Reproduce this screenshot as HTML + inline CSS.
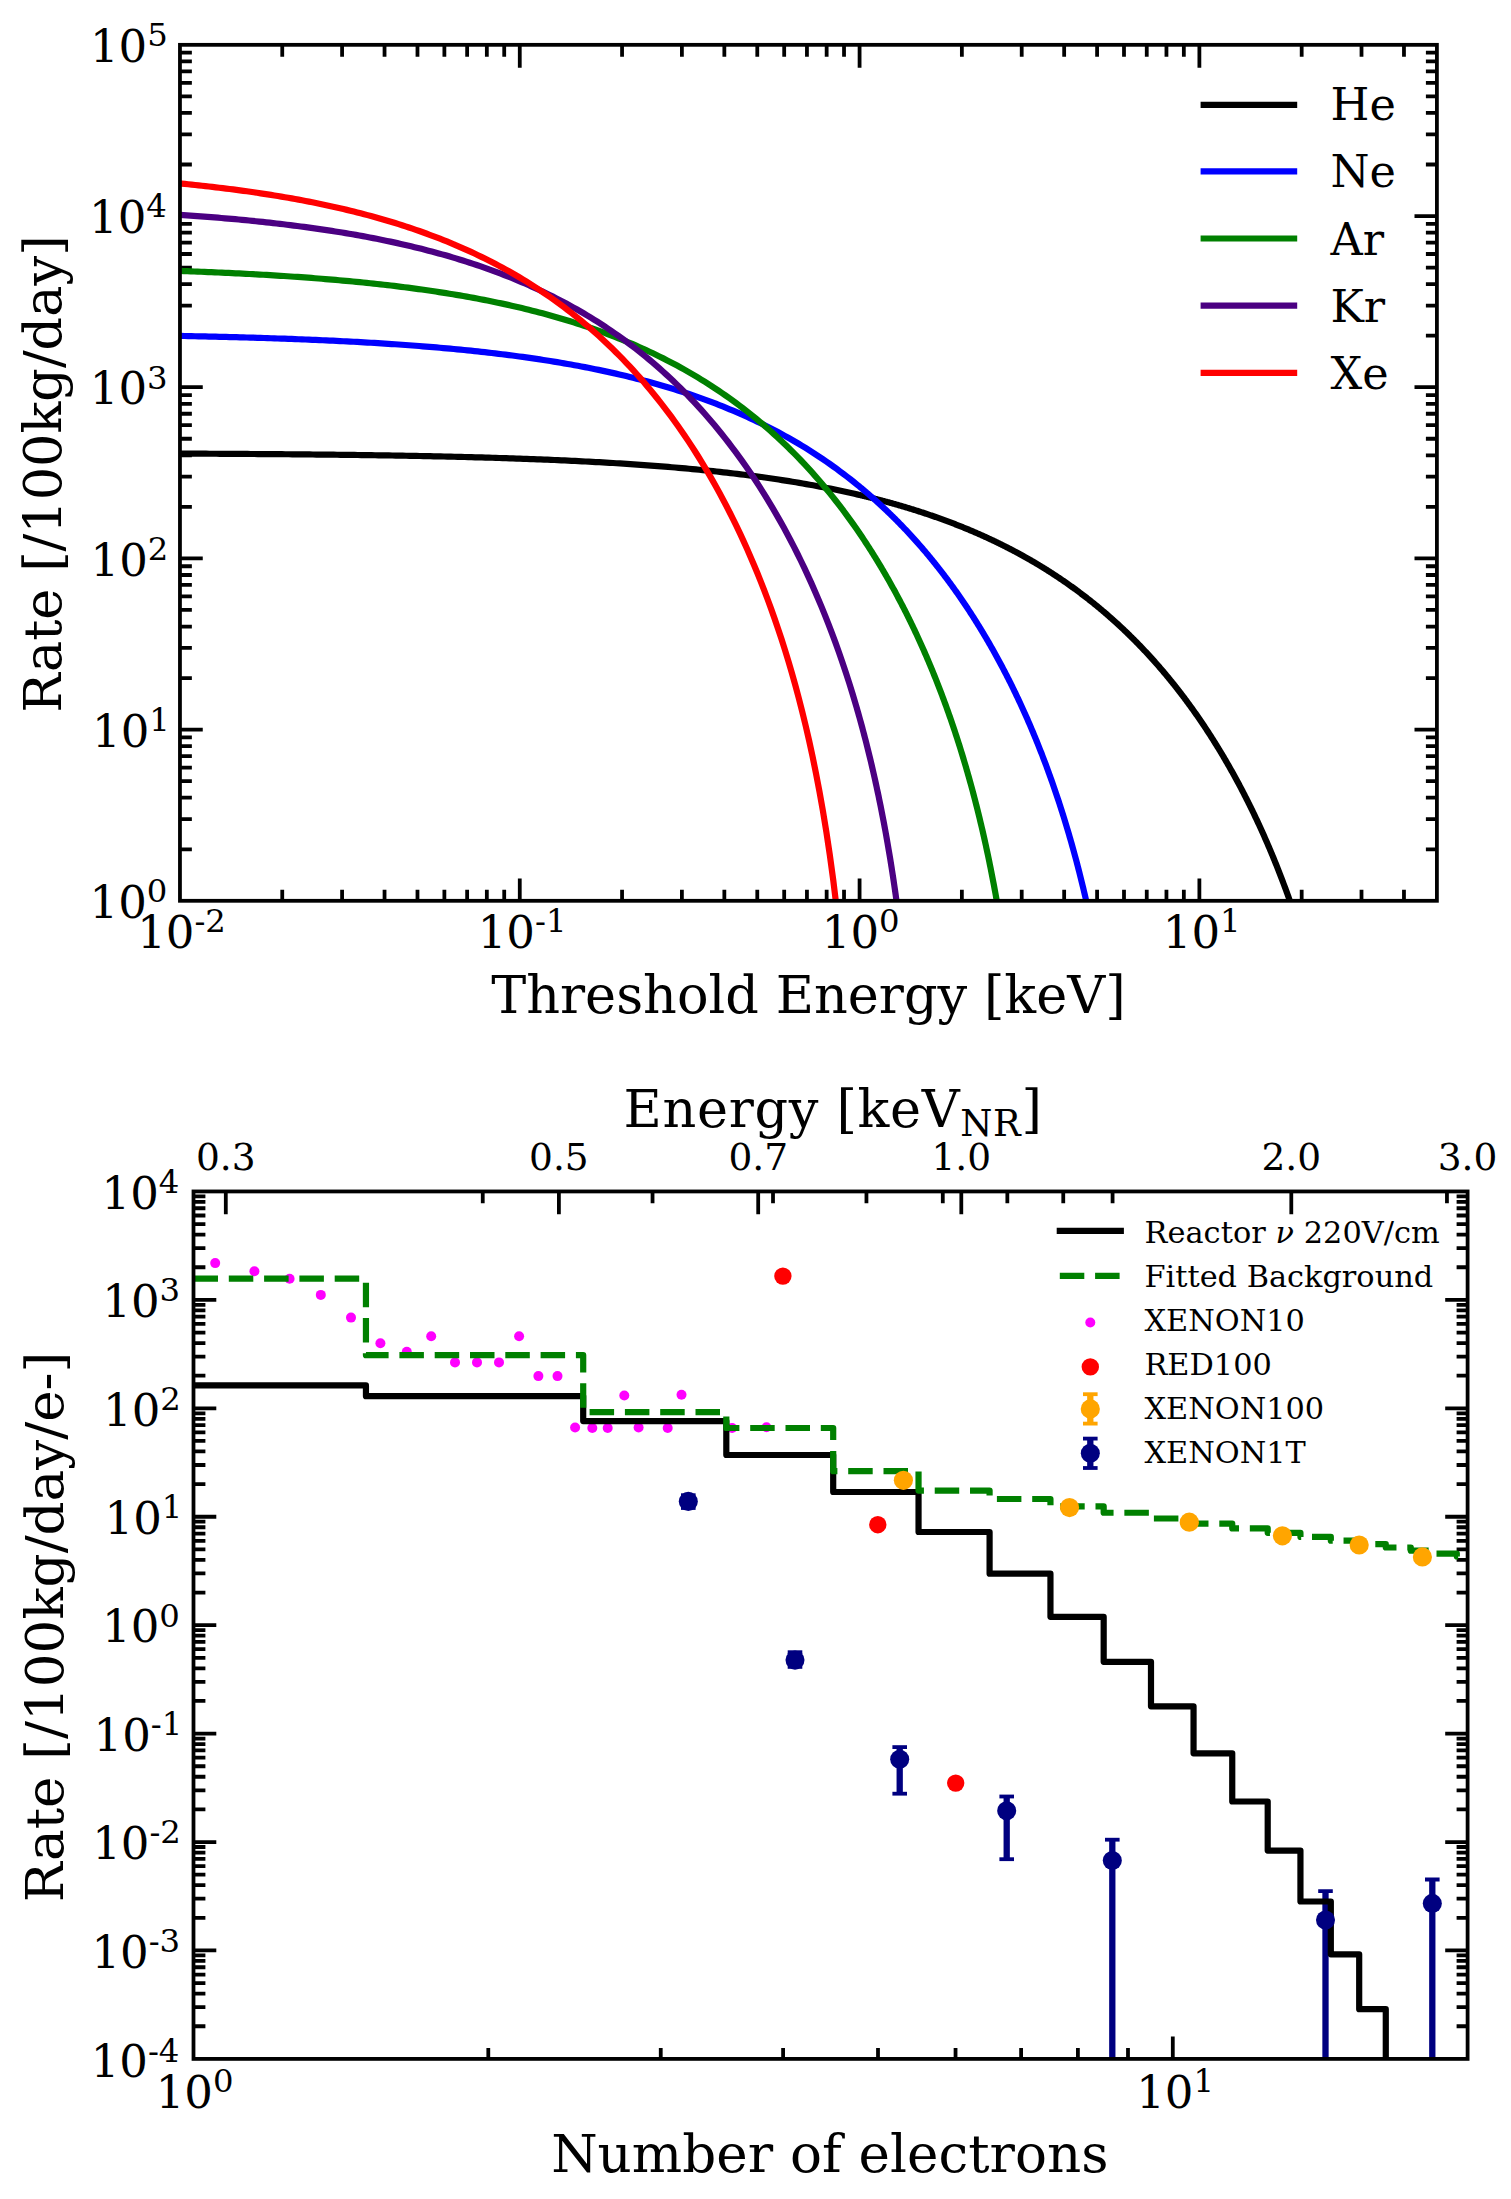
<!DOCTYPE html>
<html lang="en"><head><meta charset="utf-8"><title>Reactor neutrino CEvNS rates</title>
<style>html,body{margin:0;padding:0;background:#fff}svg{display:block}</style></head>
<body>
<svg width="1511" height="2199" viewBox="0 0 1511 2199" font-family="'DejaVu Serif','Liberation Serif',serif" fill="#000">
<rect width="1511" height="2199" fill="#fff"/>
<defs><clipPath id="c1"><rect x="179.96" y="44.83" width="1256.94" height="855.97"/></clipPath><clipPath id="c2"><rect x="193.5" y="1191.45" width="1274.1" height="867.45"/></clipPath></defs>
<path d="M282.25,900.8v-11M282.25,44.83v11.9M342.09,900.8v-11M342.09,44.83v11.9M384.54,900.8v-11M384.54,44.83v11.9M417.48,900.8v-11M417.48,44.83v11.9M444.38,900.8v-11M444.38,44.83v11.9M467.13,900.8v-11M467.13,44.83v11.9M486.84,900.8v-11M486.84,44.83v11.9M504.22,900.8v-11M504.22,44.83v11.9M519.77,900.8v-22.4M519.77,44.83v22.8M622.06,900.8v-11M622.06,44.83v11.9M681.9,900.8v-11M681.9,44.83v11.9M724.35,900.8v-11M724.35,44.83v11.9M757.28,900.8v-11M757.28,44.83v11.9M784.19,900.8v-11M784.19,44.83v11.9M806.94,900.8v-11M806.94,44.83v11.9M826.65,900.8v-11M826.65,44.83v11.9M844.03,900.8v-11M844.03,44.83v11.9M859.58,900.8v-22.4M859.58,44.83v22.8M961.87,900.8v-11M961.87,44.83v11.9M1021.71,900.8v-11M1021.71,44.83v11.9M1064.16,900.8v-11M1064.16,44.83v11.9M1097.09,900.8v-11M1097.09,44.83v11.9M1124,900.8v-11M1124,44.83v11.9M1146.75,900.8v-11M1146.75,44.83v11.9M1166.45,900.8v-11M1166.45,44.83v11.9M1183.84,900.8v-11M1183.84,44.83v11.9M1199.38,900.8v-22.4M1199.38,44.83v22.8M1301.68,900.8v-11M1301.68,44.83v11.9M1361.51,900.8v-11M1361.51,44.83v11.9M1403.97,900.8v-11M1403.97,44.83v11.9M179.96,849.27h11.9M1436.9,849.27h-11M179.96,819.12h11.9M1436.9,819.12h-11M179.96,797.73h11.9M1436.9,797.73h-11M179.96,781.14h11.9M1436.9,781.14h-11M179.96,767.59h11.9M1436.9,767.59h-11M179.96,756.12h11.9M1436.9,756.12h-11M179.96,746.2h11.9M1436.9,746.2h-11M179.96,737.44h11.9M1436.9,737.44h-11M179.96,729.61h22.8M1436.9,729.61h-22.4M179.96,678.07h11.9M1436.9,678.07h-11M179.96,647.93h11.9M1436.9,647.93h-11M179.96,626.54h11.9M1436.9,626.54h-11M179.96,609.95h11.9M1436.9,609.95h-11M179.96,596.39h11.9M1436.9,596.39h-11M179.96,584.93h11.9M1436.9,584.93h-11M179.96,575h11.9M1436.9,575h-11M179.96,566.25h11.9M1436.9,566.25h-11M179.96,558.41h22.8M1436.9,558.41h-22.4M179.96,506.88h11.9M1436.9,506.88h-11M179.96,476.73h11.9M1436.9,476.73h-11M179.96,455.34h11.9M1436.9,455.34h-11M179.96,438.75h11.9M1436.9,438.75h-11M179.96,425.2h11.9M1436.9,425.2h-11M179.96,413.74h11.9M1436.9,413.74h-11M179.96,403.81h11.9M1436.9,403.81h-11M179.96,395.05h11.9M1436.9,395.05h-11M179.96,387.22h22.8M1436.9,387.22h-22.4M179.96,335.68h11.9M1436.9,335.68h-11M179.96,305.54h11.9M1436.9,305.54h-11M179.96,284.15h11.9M1436.9,284.15h-11M179.96,267.56h11.9M1436.9,267.56h-11M179.96,254h11.9M1436.9,254h-11M179.96,242.54h11.9M1436.9,242.54h-11M179.96,232.61h11.9M1436.9,232.61h-11M179.96,223.86h11.9M1436.9,223.86h-11M179.96,216.02h22.8M1436.9,216.02h-22.4M179.96,164.49h11.9M1436.9,164.49h-11M179.96,134.34h11.9M1436.9,134.34h-11M179.96,112.95h11.9M1436.9,112.95h-11M179.96,96.36h11.9M1436.9,96.36h-11M179.96,82.81h11.9M1436.9,82.81h-11M179.96,71.35h11.9M1436.9,71.35h-11M179.96,61.42h11.9M1436.9,61.42h-11M179.96,52.66h11.9M1436.9,52.66h-11" stroke="#000" stroke-width="3.78" fill="none"/>
<g clip-path="url(#c1)" fill="none" stroke-width="6.2" stroke-linejoin="round" stroke-linecap="butt">
<path d="M171.54,453.56 L174.99,453.58 L178.44,453.59 L181.89,453.61 L185.34,453.62 L188.79,453.64 L192.24,453.65 L195.69,453.67 L199.14,453.68 L202.59,453.7 L206.04,453.72 L209.49,453.74 L212.94,453.75 L216.38,453.77 L219.83,453.79 L223.28,453.81 L226.73,453.83 L230.18,453.85 L233.63,453.87 L237.08,453.89 L240.53,453.92 L243.98,453.94 L247.43,453.96 L250.88,453.98 L254.33,454.01 L257.78,454.03 L261.23,454.06 L264.68,454.08 L268.12,454.11 L271.57,454.13 L275.02,454.16 L278.47,454.19 L281.92,454.21 L285.37,454.24 L288.82,454.27 L292.27,454.3 L295.72,454.33 L299.17,454.36 L302.62,454.4 L306.07,454.43 L309.52,454.46 L312.97,454.5 L316.41,454.53 L319.86,454.57 L323.31,454.6 L326.76,454.64 L330.21,454.68 L333.66,454.72 L337.11,454.76 L340.56,454.8 L344.01,454.84 L347.46,454.88 L350.91,454.92 L354.36,454.97 L357.81,455.01 L361.26,455.06 L364.71,455.11 L368.15,455.15 L371.6,455.2 L375.05,455.25 L378.5,455.31 L381.95,455.36 L385.4,455.41 L388.85,455.47 L392.3,455.52 L395.75,455.58 L399.2,455.64 L402.65,455.7 L406.1,455.76 L409.55,455.82 L413,455.88 L416.44,455.95 L419.89,456.01 L423.34,456.08 L426.79,456.15 L430.24,456.22 L433.69,456.29 L437.14,456.36 L440.59,456.44 L444.04,456.51 L447.49,456.59 L450.94,456.67 L454.39,456.75 L457.84,456.84 L461.29,456.92 L464.74,457.01 L468.18,457.1 L471.63,457.19 L475.08,457.28 L478.53,457.37 L481.98,457.47 L485.43,457.57 L488.88,457.67 L492.33,457.77 L495.78,457.87 L499.23,457.98 L502.68,458.09 L506.13,458.2 L509.58,458.31 L513.03,458.43 L516.47,458.54 L519.92,458.66 L523.37,458.79 L526.82,458.91 L530.27,459.04 L533.72,459.17 L537.17,459.3 L540.62,459.44 L544.07,459.58 L547.52,459.72 L550.97,459.86 L554.42,460.01 L557.87,460.16 L561.32,460.31 L564.76,460.47 L568.21,460.63 L571.66,460.79 L575.11,460.96 L578.56,461.13 L582.01,461.3 L585.46,461.48 L588.91,461.66 L592.36,461.84 L595.81,462.03 L599.26,462.22 L602.71,462.41 L606.16,462.61 L609.61,462.82 L613.06,463.02 L616.5,463.23 L619.95,463.45 L623.4,463.67 L626.85,463.89 L630.3,464.12 L633.75,464.35 L637.2,464.59 L640.65,464.83 L644.1,465.08 L647.55,465.33 L651,465.59 L654.45,465.85 L657.9,466.11 L661.35,466.39 L664.79,466.66 L668.24,466.95 L671.69,467.23 L675.14,467.53 L678.59,467.83 L682.04,468.13 L685.49,468.44 L688.94,468.76 L692.39,469.09 L695.84,469.42 L699.29,469.75 L702.74,470.09 L706.19,470.44 L709.64,470.8 L713.09,471.16 L716.53,471.53 L719.98,471.91 L723.43,472.3 L726.88,472.69 L730.33,473.09 L733.78,473.49 L737.23,473.91 L740.68,474.33 L744.13,474.76 L747.58,475.2 L751.03,475.65 L754.48,476.1 L757.93,476.57 L761.38,477.04 L764.82,477.53 L768.27,478.02 L771.72,478.52 L775.17,479.03 L778.62,479.55 L782.07,480.08 L785.52,480.62 L788.97,481.17 L792.42,481.73 L795.87,482.3 L799.32,482.88 L802.77,483.47 L806.22,484.08 L809.67,484.69 L813.12,485.32 L816.56,485.96 L820.01,486.61 L823.46,487.27 L826.91,487.95 L830.36,488.63 L833.81,489.33 L837.26,490.05 L840.71,490.77 L844.16,491.51 L847.61,492.27 L851.06,493.03 L854.51,493.82 L857.96,494.61 L858.64,494.77 L859.32,494.93 L860,495.09 L860.68,495.25 L861.36,495.41 L862.04,495.57 L862.72,495.74 L863.4,495.9 L864.08,496.06 L864.76,496.23 L865.44,496.39 L866.12,496.56 L866.8,496.72 L867.48,496.89 L868.17,497.06 L868.85,497.22 L869.53,497.39 L870.21,497.56 L870.89,497.73 L871.57,497.9 L872.25,498.07 L872.93,498.24 L873.61,498.41 L874.29,498.59 L874.97,498.76 L875.65,498.93 L876.33,499.11 L877.01,499.28 L877.69,499.46 L878.37,499.64 L879.05,499.81 L879.74,499.99 L880.42,500.17 L881.1,500.35 L881.78,500.53 L882.46,500.71 L883.14,500.89 L883.82,501.07 L884.5,501.25 L885.18,501.43 L885.86,501.62 L886.54,501.8 L887.22,501.99 L887.9,502.17 L888.58,502.36 L889.26,502.55 L889.94,502.73 L890.62,502.92 L891.31,503.11 L891.99,503.3 L892.67,503.49 L893.35,503.68 L894.03,503.87 L894.71,504.06 L895.39,504.26 L896.07,504.45 L896.75,504.65 L897.43,504.84 L898.11,505.04 L898.79,505.23 L899.47,505.43 L900.15,505.63 L900.83,505.83 L901.51,506.03 L902.19,506.23 L902.88,506.43 L903.56,506.63 L904.24,506.83 L904.92,507.03 L905.6,507.24 L906.28,507.44 L906.96,507.65 L907.64,507.85 L908.32,508.06 L909,508.27 L909.68,508.47 L910.36,508.68 L911.04,508.89 L911.72,509.1 L912.4,509.31 L913.08,509.53 L913.76,509.74 L914.45,509.95 L915.13,510.17 L915.81,510.38 L916.49,510.6 L917.17,510.81 L917.85,511.03 L918.53,511.25 L919.21,511.47 L919.89,511.69 L920.57,511.91 L921.25,512.13 L921.93,512.35 L922.61,512.57 L923.29,512.79 L923.97,513.02 L924.65,513.24 L925.33,513.47 L926.02,513.7 L926.7,513.92 L927.38,514.15 L928.06,514.38 L928.74,514.61 L929.42,514.84 L930.1,515.07 L930.78,515.31 L931.46,515.54 L932.14,515.77 L932.82,516.01 L933.5,516.24 L934.18,516.48 L934.86,516.72 L935.54,516.96 L936.22,517.2 L936.9,517.44 L937.59,517.68 L938.27,517.92 L938.95,518.16 L939.63,518.41 L940.31,518.65 L940.99,518.9 L941.67,519.14 L942.35,519.39 L943.03,519.64 L943.71,519.88 L944.39,520.13 L945.07,520.39 L945.75,520.64 L946.43,520.89 L947.11,521.14 L947.79,521.4 L948.47,521.65 L949.16,521.91 L949.84,522.16 L950.52,522.42 L951.2,522.68 L951.88,522.94 L952.56,523.2 L953.24,523.46 L953.92,523.72 L954.6,523.99 L955.28,524.25 L955.96,524.52 L956.64,524.78 L957.32,525.05 L958,525.32 L958.68,525.59 L959.36,525.86 L960.04,526.13 L960.73,526.4 L961.41,526.67 L962.09,526.95 L962.77,527.22 L963.45,527.5 L964.13,527.78 L964.81,528.05 L965.49,528.33 L966.17,528.61 L966.85,528.89 L967.53,529.18 L968.21,529.46 L968.89,529.74 L969.57,530.03 L970.25,530.31 L970.93,530.6 L971.61,530.89 L972.3,531.18 L972.98,531.47 L973.66,531.76 L974.34,532.05 L975.02,532.34 L975.7,532.64 L976.38,532.93 L977.06,533.23 L977.74,533.53 L978.42,533.82 L979.1,534.12 L979.78,534.42 L980.46,534.73 L981.14,535.03 L981.82,535.33 L982.5,535.64 L983.18,535.94 L983.87,536.25 L984.55,536.56 L985.23,536.87 L985.91,537.18 L986.59,537.49 L987.27,537.8 L987.95,538.11 L988.63,538.43 L989.31,538.75 L989.99,539.06 L990.67,539.38 L991.35,539.7 L992.03,540.02 L992.71,540.34 L993.39,540.66 L994.07,540.99 L994.75,541.31 L995.44,541.64 L996.12,541.97 L996.8,542.3 L997.48,542.63 L998.16,542.96 L998.84,543.29 L999.52,543.62 L1000.2,543.96 L1000.88,544.29 L1001.56,544.63 L1002.24,544.97 L1002.92,545.31 L1003.6,545.65 L1004.28,545.99 L1004.96,546.33 L1005.64,546.67 L1006.32,547.02 L1007.01,547.37 L1007.69,547.71 L1008.37,548.06 L1009.05,548.41 L1009.73,548.77 L1010.41,549.12 L1011.09,549.47 L1011.77,549.83 L1012.45,550.18 L1013.13,550.54 L1013.81,550.9 L1014.49,551.26 L1015.17,551.62 L1015.85,551.99 L1016.53,552.35 L1017.21,552.72 L1017.89,553.08 L1018.58,553.45 L1019.26,553.82 L1019.94,554.19 L1020.62,554.56 L1021.3,554.94 L1021.98,555.31 L1022.66,555.69 L1023.34,556.07 L1024.02,556.44 L1024.7,556.83 L1025.38,557.21 L1026.06,557.59 L1026.74,557.97 L1027.42,558.36 L1028.1,558.75 L1028.78,559.14 L1029.46,559.53 L1030.15,559.92 L1030.83,560.31 L1031.51,560.7 L1032.19,561.1 L1032.87,561.5 L1033.55,561.89 L1034.23,562.29 L1034.91,562.7 L1035.59,563.1 L1036.27,563.5 L1036.95,563.91 L1037.63,564.31 L1038.31,564.72 L1038.99,565.13 L1039.67,565.54 L1040.35,565.96 L1041.03,566.37 L1041.72,566.79 L1042.4,567.2 L1043.08,567.62 L1043.76,568.04 L1044.44,568.47 L1045.12,568.89 L1045.8,569.31 L1046.48,569.74 L1047.16,570.17 L1047.84,570.6 L1048.52,571.03 L1049.2,571.46 L1049.88,571.9 L1050.56,572.33 L1051.24,572.77 L1051.92,573.21 L1052.6,573.65 L1053.29,574.09 L1053.97,574.53 L1054.65,574.98 L1055.33,575.43 L1056.01,575.87 L1056.69,576.32 L1057.37,576.78 L1058.05,577.23 L1058.73,577.68 L1059.41,578.14 L1060.09,578.6 L1060.77,579.06 L1061.45,579.52 L1062.13,579.98 L1062.81,580.45 L1063.49,580.91 L1064.17,581.38 L1064.86,581.85 L1065.54,582.32 L1066.22,582.8 L1066.9,583.27 L1067.58,583.75 L1068.26,584.23 L1068.94,584.71 L1069.62,585.19 L1070.3,585.67 L1070.98,586.16 L1071.66,586.64 L1072.34,587.13 L1073.02,587.62 L1073.7,588.12 L1074.38,588.61 L1075.06,589.11 L1075.74,589.6 L1076.43,590.1 L1077.11,590.61 L1077.79,591.11 L1078.47,591.61 L1079.15,592.12 L1079.83,592.63 L1080.51,593.14 L1081.19,593.65 L1081.87,594.17 L1082.55,594.68 L1083.23,595.2 L1083.91,595.72 L1084.59,596.24 L1085.27,596.77 L1085.95,597.29 L1086.63,597.82 L1087.31,598.35 L1088,598.88 L1088.68,599.41 L1089.36,599.95 L1090.04,600.49 L1090.72,601.02 L1091.4,601.57 L1092.08,602.11 L1092.76,602.65 L1093.44,603.2 L1094.12,603.75 L1094.8,604.3 L1095.48,604.85 L1096.16,605.41 L1096.84,605.97 L1097.52,606.52 L1098.2,607.09 L1098.88,607.65 L1099.57,608.21 L1100.25,608.78 L1100.93,609.35 L1101.61,609.92 L1102.29,610.5 L1102.97,611.07 L1103.65,611.65 L1104.33,612.23 L1105.01,612.81 L1105.69,613.4 L1106.37,613.98 L1107.05,614.57 L1107.73,615.16 L1108.41,615.75 L1109.09,616.35 L1109.77,616.95 L1110.45,617.54 L1111.14,618.15 L1111.82,618.75 L1112.5,619.36 L1113.18,619.96 L1113.86,620.57 L1114.54,621.19 L1115.22,621.8 L1115.9,622.42 L1116.58,623.04 L1117.26,623.66 L1117.94,624.29 L1118.62,624.91 L1119.3,625.54 L1119.98,626.17 L1120.66,626.8 L1121.34,627.44 L1122.02,628.08 L1122.71,628.72 L1123.39,629.36 L1124.07,630.01 L1124.75,630.65 L1125.43,631.3 L1126.11,631.96 L1126.79,632.61 L1127.47,633.27 L1128.15,633.93 L1128.83,634.59 L1129.51,635.26 L1130.19,635.92 L1130.87,636.59 L1131.55,637.26 L1132.23,637.94 L1132.91,638.62 L1133.59,639.3 L1134.28,639.98 L1134.96,640.66 L1135.64,641.35 L1136.32,642.04 L1137,642.73 L1137.68,643.43 L1138.36,644.13 L1139.04,644.83 L1139.72,645.53 L1140.4,646.23 L1141.08,646.94 L1141.76,647.65 L1142.44,648.37 L1143.12,649.08 L1143.8,649.8 L1144.48,650.52 L1145.16,651.25 L1145.85,651.98 L1146.53,652.71 L1147.21,653.44 L1147.89,654.17 L1148.57,654.91 L1149.25,655.65 L1149.93,656.4 L1150.61,657.14 L1151.29,657.89 L1151.97,658.65 L1152.65,659.4 L1153.33,660.16 L1154.01,660.92 L1154.69,661.68 L1155.37,662.45 L1156.05,663.22 L1156.73,663.99 L1157.42,664.77 L1158.1,665.55 L1158.78,666.33 L1159.46,667.11 L1160.14,667.9 L1160.82,668.69 L1161.5,669.49 L1162.18,670.28 L1162.86,671.08 L1163.54,671.88 L1164.22,672.69 L1164.9,673.5 L1165.58,674.31 L1166.26,675.13 L1166.94,675.95 L1167.62,676.77 L1168.3,677.59 L1168.99,678.42 L1169.67,679.25 L1170.35,680.09 L1171.03,680.92 L1171.71,681.77 L1172.39,682.61 L1173.07,683.46 L1173.75,684.31 L1174.43,685.16 L1175.11,686.02 L1175.79,686.88 L1176.47,687.75 L1177.15,688.61 L1177.83,689.48 L1178.51,690.36 L1179.19,691.24 L1179.87,692.12 L1180.56,693 L1181.24,693.89 L1181.92,694.78 L1182.6,695.68 L1183.28,696.58 L1183.96,697.48 L1184.64,698.39 L1185.32,699.3 L1186,700.21 L1186.68,701.13 L1187.36,702.05 L1188.04,702.97 L1188.72,703.9 L1189.4,704.83 L1190.08,705.77 L1190.76,706.71 L1191.44,707.65 L1192.13,708.6 L1192.81,709.55 L1193.49,710.5 L1194.17,711.46 L1194.85,712.43 L1195.53,713.39 L1196.21,714.36 L1196.89,715.34 L1197.57,716.32 L1198.25,717.3 L1198.93,718.28 L1199.61,719.27 L1200.29,720.27 L1200.97,721.27 L1201.65,722.27 L1202.33,723.28 L1203.01,724.29 L1203.7,725.3 L1204.38,726.32 L1205.06,727.35 L1205.74,728.37 L1206.42,729.41 L1207.1,730.44 L1207.78,731.48 L1208.46,732.53 L1209.14,733.58 L1209.82,734.63 L1210.5,735.69 L1211.18,736.75 L1211.86,737.82 L1212.54,738.89 L1213.22,739.97 L1213.9,741.05 L1214.58,742.14 L1215.27,743.23 L1215.95,744.32 L1216.63,745.42 L1217.31,746.52 L1217.99,747.63 L1218.67,748.75 L1219.35,749.87 L1220.03,750.99 L1220.71,752.12 L1221.39,753.25 L1222.07,754.39 L1222.75,755.53 L1223.43,756.68 L1224.11,757.84 L1224.79,758.99 L1225.47,760.16 L1226.15,761.33 L1226.84,762.5 L1227.52,763.68 L1228.2,764.86 L1228.88,766.05 L1229.56,767.25 L1230.24,768.45 L1230.92,769.66 L1231.6,770.87 L1232.28,772.08 L1232.96,773.31 L1233.64,774.53 L1234.32,775.77 L1235,777.01 L1235.68,778.25 L1236.36,779.5 L1237.04,780.76 L1237.72,782.02 L1238.41,783.29 L1239.09,784.56 L1239.77,785.84 L1240.45,787.13 L1241.13,788.42 L1241.81,789.72 L1242.49,791.02 L1243.17,792.34 L1243.85,793.65 L1244.53,794.98 L1245.21,796.3 L1245.89,797.64 L1246.57,798.98 L1247.25,800.33 L1247.93,801.69 L1248.61,803.05 L1249.29,804.42 L1249.98,805.79 L1250.66,807.18 L1251.34,808.57 L1252.02,809.96 L1252.7,811.36 L1253.38,812.77 L1254.06,814.19 L1254.74,815.62 L1255.42,817.05 L1256.1,818.49 L1256.78,819.93 L1257.46,821.39 L1258.14,822.85 L1258.82,824.32 L1259.5,825.79 L1260.18,827.28 L1260.86,828.77 L1261.55,830.27 L1262.23,831.78 L1262.91,833.29 L1263.59,834.82 L1264.27,836.35 L1264.95,837.89 L1265.63,839.44 L1266.31,841 L1266.99,842.56 L1267.67,844.14 L1268.35,845.72 L1269.03,847.31 L1269.71,848.91 L1270.39,850.52 L1271.07,852.14 L1271.75,853.77 L1272.43,855.41 L1273.12,857.05 L1273.8,858.71 L1274.48,860.38 L1275.16,862.05 L1275.84,863.74 L1276.52,865.43 L1277.2,867.14 L1277.88,868.86 L1278.56,870.58 L1279.24,872.32 L1279.92,874.07 L1280.6,875.82 L1281.28,877.59 L1281.96,879.37 L1282.64,881.16 L1283.32,882.97 L1284,884.78 L1284.69,886.6 L1285.37,888.44 L1286.05,890.29 L1286.73,892.15 L1287.41,894.02 L1288.09,895.91 L1288.77,897.81 L1289.45,899.72 L1290.13,901.64 L1290.81,903.58 L1291.49,905.53 L1292.17,907.49 L1292.85,909.47 L1293.53,911.46 L1294.21,913.46 L1294.89,915.48 L1295.57,917.51 L1296.26,919.56 L1296.94,921.63 L1297.62,923.7 L1298.3,925.8 L1298.98,927.91 L1299.66,930.03 L1300.34,932.17 L1301.02,934.33 L1301.7,936.5 L1302.38,938.7 L1303.06,940.9 L1303.74,943.13 L1304.42,945.37 L1305.1,947.63 L1305.78,949.92 L1306.46,952.21 L1307.14,954.53 L1307.83,956.87 L1308.51,959.23" stroke="#000000"/>
<path d="M170.9,335.76 L174.35,335.82 L177.8,335.89 L181.25,335.95 L184.7,336.02 L188.15,336.09 L191.6,336.16 L195.05,336.23 L198.5,336.3 L201.95,336.38 L205.4,336.45 L208.85,336.53 L212.3,336.61 L215.74,336.69 L219.19,336.78 L222.64,336.86 L226.09,336.95 L229.54,337.03 L232.99,337.12 L236.44,337.22 L239.89,337.31 L243.34,337.41 L246.79,337.5 L250.24,337.6 L253.69,337.7 L257.14,337.81 L260.59,337.91 L264.04,338.02 L267.48,338.13 L270.93,338.25 L274.38,338.36 L277.83,338.48 L281.28,338.6 L284.73,338.72 L288.18,338.84 L291.63,338.97 L295.08,339.1 L298.53,339.24 L301.98,339.37 L305.43,339.51 L308.88,339.65 L312.33,339.79 L315.77,339.94 L319.22,340.09 L322.67,340.24 L326.12,340.4 L329.57,340.56 L333.02,340.72 L336.47,340.89 L339.92,341.05 L343.37,341.23 L346.82,341.4 L350.27,341.58 L353.72,341.77 L357.17,341.95 L360.62,342.14 L364.07,342.34 L367.51,342.53 L370.96,342.74 L374.41,342.94 L377.86,343.15 L381.31,343.37 L384.76,343.59 L388.21,343.81 L391.66,344.04 L395.11,344.27 L398.56,344.51 L402.01,344.75 L405.46,344.99 L408.91,345.24 L412.36,345.5 L415.8,345.76 L419.25,346.03 L422.7,346.3 L426.15,346.57 L429.6,346.86 L433.05,347.14 L436.5,347.44 L439.95,347.74 L443.4,348.04 L446.85,348.35 L450.3,348.67 L453.75,348.99 L457.2,349.32 L460.65,349.65 L464.1,350 L467.54,350.34 L470.99,350.7 L474.44,351.06 L477.89,351.43 L481.34,351.81 L484.79,352.19 L488.24,352.58 L491.69,352.98 L495.14,353.39 L498.59,353.8 L502.04,354.22 L505.49,354.65 L508.94,355.09 L512.39,355.54 L515.83,355.99 L519.28,356.45 L522.73,356.93 L526.18,357.41 L529.63,357.9 L533.08,358.4 L536.53,358.91 L539.98,359.43 L543.43,359.95 L546.88,360.49 L550.33,361.04 L553.78,361.6 L557.23,362.17 L560.68,362.75 L564.12,363.34 L567.57,363.94 L571.02,364.56 L574.47,365.18 L577.92,365.82 L581.37,366.47 L584.82,367.13 L588.27,367.8 L591.72,368.49 L595.17,369.18 L598.62,369.9 L602.07,370.62 L605.52,371.36 L608.97,372.11 L612.42,372.88 L615.86,373.65 L619.31,374.45 L622.76,375.26 L626.21,376.08 L629.66,376.92 L633.11,377.78 L636.56,378.65 L640.01,379.53 L643.46,380.43 L646.91,381.35 L650.36,382.29 L653.81,383.24 L657.26,384.21 L660.71,385.2 L664.15,386.21 L667.6,387.24 L671.05,388.28 L674.5,389.34 L677.95,390.43 L681.4,391.53 L684.85,392.65 L688.3,393.79 L691.75,394.96 L695.2,396.14 L698.65,397.35 L702.1,398.58 L705.55,399.83 L709,401.11 L712.45,402.4 L715.89,403.73 L719.34,405.07 L722.79,406.44 L726.24,407.84 L729.69,409.26 L733.14,410.7 L736.59,412.18 L740.04,413.68 L743.49,415.2 L746.94,416.76 L750.39,418.34 L753.84,419.95 L757.29,421.59 L760.74,423.26 L764.18,424.97 L767.63,426.7 L771.08,428.46 L774.53,430.26 L777.98,432.09 L781.43,433.95 L784.88,435.85 L788.33,437.78 L791.78,439.75 L795.23,441.75 L798.68,443.79 L802.13,445.86 L805.58,447.98 L809.03,450.13 L812.48,452.33 L815.92,454.56 L819.37,456.83 L822.82,459.15 L826.27,461.51 L829.72,463.91 L833.17,466.36 L836.62,468.85 L840.07,471.38 L843.52,473.97 L846.97,476.6 L850.42,479.28 L853.87,482.01 L857.32,484.8 L858,485.35 L858.68,485.91 L859.36,486.47 L860.04,487.03 L860.72,487.59 L861.4,488.16 L862.08,488.72 L862.76,489.29 L863.44,489.86 L864.12,490.44 L864.8,491.01 L865.48,491.59 L866.16,492.17 L866.84,492.75 L867.53,493.34 L868.21,493.92 L868.89,494.51 L869.57,495.1 L870.25,495.7 L870.93,496.29 L871.61,496.89 L872.29,497.49 L872.97,498.09 L873.65,498.69 L874.33,499.3 L875.01,499.91 L875.69,500.52 L876.37,501.13 L877.05,501.74 L877.73,502.36 L878.41,502.98 L879.1,503.6 L879.78,504.23 L880.46,504.85 L881.14,505.48 L881.82,506.11 L882.5,506.75 L883.18,507.38 L883.86,508.02 L884.54,508.66 L885.22,509.3 L885.9,509.95 L886.58,510.6 L887.26,511.25 L887.94,511.9 L888.62,512.55 L889.3,513.21 L889.98,513.87 L890.67,514.53 L891.35,515.2 L892.03,515.86 L892.71,516.53 L893.39,517.21 L894.07,517.88 L894.75,518.56 L895.43,519.24 L896.11,519.92 L896.79,520.6 L897.47,521.29 L898.15,521.98 L898.83,522.67 L899.51,523.37 L900.19,524.07 L900.87,524.77 L901.55,525.47 L902.24,526.18 L902.92,526.88 L903.6,527.59 L904.28,528.31 L904.96,529.02 L905.64,529.74 L906.32,530.46 L907,531.19 L907.68,531.92 L908.36,532.65 L909.04,533.38 L909.72,534.11 L910.4,534.85 L911.08,535.59 L911.76,536.34 L912.44,537.08 L913.12,537.83 L913.81,538.59 L914.49,539.34 L915.17,540.1 L915.85,540.86 L916.53,541.62 L917.21,542.39 L917.89,543.16 L918.57,543.93 L919.25,544.71 L919.93,545.49 L920.61,546.27 L921.29,547.05 L921.97,547.84 L922.65,548.63 L923.33,549.42 L924.01,550.22 L924.69,551.02 L925.38,551.82 L926.06,552.63 L926.74,553.44 L927.42,554.25 L928.1,555.07 L928.78,555.88 L929.46,556.71 L930.14,557.53 L930.82,558.36 L931.5,559.19 L932.18,560.02 L932.86,560.86 L933.54,561.7 L934.22,562.55 L934.9,563.4 L935.58,564.25 L936.26,565.1 L936.95,565.96 L937.63,566.82 L938.31,567.68 L938.99,568.55 L939.67,569.42 L940.35,570.3 L941.03,571.17 L941.71,572.06 L942.39,572.94 L943.07,573.83 L943.75,574.72 L944.43,575.62 L945.11,576.52 L945.79,577.42 L946.47,578.32 L947.15,579.23 L947.83,580.15 L948.52,581.07 L949.2,581.99 L949.88,582.91 L950.56,583.84 L951.24,584.77 L951.92,585.71 L952.6,586.65 L953.28,587.59 L953.96,588.54 L954.64,589.49 L955.32,590.44 L956,591.4 L956.68,592.36 L957.36,593.33 L958.04,594.3 L958.72,595.27 L959.4,596.25 L960.09,597.23 L960.77,598.22 L961.45,599.21 L962.13,600.2 L962.81,601.2 L963.49,602.21 L964.17,603.21 L964.85,604.22 L965.53,605.24 L966.21,606.26 L966.89,607.28 L967.57,608.31 L968.25,609.34 L968.93,610.38 L969.61,611.42 L970.29,612.46 L970.97,613.51 L971.66,614.57 L972.34,615.63 L973.02,616.69 L973.7,617.76 L974.38,618.83 L975.06,619.9 L975.74,620.98 L976.42,622.07 L977.1,623.16 L977.78,624.26 L978.46,625.36 L979.14,626.46 L979.82,627.57 L980.5,628.68 L981.18,629.8 L981.86,630.92 L982.54,632.05 L983.23,633.19 L983.91,634.32 L984.59,635.47 L985.27,636.62 L985.95,637.77 L986.63,638.93 L987.31,640.09 L987.99,641.26 L988.67,642.43 L989.35,643.61 L990.03,644.8 L990.71,645.99 L991.39,647.18 L992.07,648.38 L992.75,649.59 L993.43,650.8 L994.11,652.02 L994.8,653.24 L995.48,654.47 L996.16,655.7 L996.84,656.94 L997.52,658.18 L998.2,659.44 L998.88,660.69 L999.56,661.95 L1000.24,663.22 L1000.92,664.5 L1001.6,665.78 L1002.28,667.06 L1002.96,668.35 L1003.64,669.65 L1004.32,670.96 L1005,672.27 L1005.68,673.58 L1006.37,674.91 L1007.05,676.24 L1007.73,677.57 L1008.41,678.91 L1009.09,680.26 L1009.77,681.62 L1010.45,682.98 L1011.13,684.35 L1011.81,685.72 L1012.49,687.11 L1013.17,688.5 L1013.85,689.89 L1014.53,691.29 L1015.21,692.7 L1015.89,694.12 L1016.57,695.55 L1017.25,696.98 L1017.94,698.42 L1018.62,699.86 L1019.3,701.32 L1019.98,702.78 L1020.66,704.25 L1021.34,705.72 L1022.02,707.21 L1022.7,708.7 L1023.38,710.2 L1024.06,711.71 L1024.74,713.22 L1025.42,714.75 L1026.1,716.28 L1026.78,717.82 L1027.46,719.37 L1028.14,720.92 L1028.82,722.49 L1029.51,724.06 L1030.19,725.65 L1030.87,727.24 L1031.55,728.84 L1032.23,730.45 L1032.91,732.07 L1033.59,733.7 L1034.27,735.33 L1034.95,736.98 L1035.63,738.64 L1036.31,740.3 L1036.99,741.98 L1037.67,743.66 L1038.35,745.36 L1039.03,747.07 L1039.71,748.78 L1040.39,750.51 L1041.08,752.24 L1041.76,753.99 L1042.44,755.75 L1043.12,757.52 L1043.8,759.3 L1044.48,761.09 L1045.16,762.89 L1045.84,764.7 L1046.52,766.53 L1047.2,768.37 L1047.88,770.21 L1048.56,772.08 L1049.24,773.95 L1049.92,775.83 L1050.6,777.73 L1051.28,779.64 L1051.96,781.56 L1052.65,783.5 L1053.33,785.45 L1054.01,787.41 L1054.69,789.39 L1055.37,791.38 L1056.05,793.38 L1056.73,795.4 L1057.41,797.44 L1058.09,799.48 L1058.77,801.55 L1059.45,803.62 L1060.13,805.72 L1060.81,807.83 L1061.49,809.95 L1062.17,812.09 L1062.85,814.25 L1063.53,816.42 L1064.22,818.61 L1064.9,820.82 L1065.58,823.05 L1066.26,825.29 L1066.94,827.55 L1067.62,829.83 L1068.3,832.13 L1068.98,834.45 L1069.66,836.79 L1070.34,839.14 L1071.02,841.52 L1071.7,843.92 L1072.38,846.34 L1073.06,848.78 L1073.74,851.24 L1074.42,853.73 L1075.1,856.23 L1075.79,858.76 L1076.47,861.32 L1077.15,863.9 L1077.83,866.5 L1078.51,869.13 L1079.19,871.78 L1079.87,874.46 L1080.55,877.17 L1081.23,879.9 L1081.91,882.66 L1082.59,885.45 L1083.27,888.27 L1083.95,891.12 L1084.63,894 L1085.31,896.91 L1085.99,899.85 L1086.67,902.83 L1087.36,905.84 L1088.04,908.89 L1088.72,911.97 L1089.4,915.08 L1090.08,918.24 L1090.76,921.43 L1091.44,924.66 L1092.12,927.93 L1092.8,931.24 L1093.48,934.6 L1094.16,938 L1094.84,941.45 L1095.52,944.94 L1096.2,948.48 L1096.88,952.06 L1097.56,955.7 L1098.24,959.4" stroke="#0000ff"/>
<path d="M170.06,270.61 L173.51,270.73 L176.96,270.85 L180.41,270.97 L183.86,271.09 L187.31,271.22 L190.76,271.35 L194.21,271.48 L197.66,271.62 L201.11,271.75 L204.56,271.89 L208.01,272.04 L211.46,272.18 L214.9,272.33 L218.35,272.48 L221.8,272.64 L225.25,272.8 L228.7,272.96 L232.15,273.12 L235.6,273.29 L239.05,273.46 L242.5,273.64 L245.95,273.81 L249.4,274 L252.85,274.18 L256.3,274.37 L259.75,274.56 L263.2,274.76 L266.64,274.96 L270.09,275.16 L273.54,275.37 L276.99,275.59 L280.44,275.8 L283.89,276.03 L287.34,276.25 L290.79,276.48 L294.24,276.72 L297.69,276.96 L301.14,277.2 L304.59,277.45 L308.04,277.7 L311.49,277.96 L314.93,278.23 L318.38,278.5 L321.83,278.77 L325.28,279.05 L328.73,279.34 L332.18,279.63 L335.63,279.92 L339.08,280.23 L342.53,280.54 L345.98,280.85 L349.43,281.17 L352.88,281.5 L356.33,281.83 L359.78,282.17 L363.23,282.52 L366.67,282.87 L370.12,283.23 L373.57,283.6 L377.02,283.97 L380.47,284.35 L383.92,284.74 L387.37,285.14 L390.82,285.54 L394.27,285.95 L397.72,286.37 L401.17,286.8 L404.62,287.23 L408.07,287.67 L411.52,288.13 L414.96,288.59 L418.41,289.06 L421.86,289.53 L425.31,290.02 L428.76,290.52 L432.21,291.02 L435.66,291.54 L439.11,292.06 L442.56,292.6 L446.01,293.14 L449.46,293.7 L452.91,294.27 L456.36,294.84 L459.81,295.43 L463.26,296.03 L466.7,296.64 L470.15,297.26 L473.6,297.89 L477.05,298.54 L480.5,299.19 L483.95,299.86 L487.4,300.54 L490.85,301.24 L494.3,301.94 L497.75,302.66 L501.2,303.4 L504.65,304.14 L508.1,304.9 L511.55,305.68 L514.99,306.47 L518.44,307.27 L521.89,308.09 L525.34,308.92 L528.79,309.77 L532.24,310.64 L535.69,311.52 L539.14,312.42 L542.59,313.33 L546.04,314.26 L549.49,315.21 L552.94,316.17 L556.39,317.15 L559.84,318.15 L563.28,319.17 L566.73,320.21 L570.18,321.27 L573.63,322.34 L577.08,323.44 L580.53,324.56 L583.98,325.69 L587.43,326.85 L590.88,328.03 L594.33,329.23 L597.78,330.45 L601.23,331.69 L604.68,332.96 L608.13,334.25 L611.58,335.56 L615.02,336.9 L618.47,338.26 L621.92,339.65 L625.37,341.06 L628.82,342.5 L632.27,343.96 L635.72,345.45 L639.17,346.97 L642.62,348.51 L646.07,350.09 L649.52,351.69 L652.97,353.32 L656.42,354.98 L659.87,356.67 L663.31,358.39 L666.76,360.15 L670.21,361.93 L673.66,363.75 L677.11,365.6 L680.56,367.49 L684.01,369.4 L687.46,371.36 L690.91,373.35 L694.36,375.38 L697.81,377.44 L701.26,379.54 L704.71,381.68 L708.16,383.86 L711.61,386.08 L715.05,388.34 L718.5,390.64 L721.95,392.98 L725.4,395.37 L728.85,397.8 L732.3,400.28 L735.75,402.8 L739.2,405.37 L742.65,407.98 L746.1,410.65 L749.55,413.36 L753,416.13 L756.45,418.94 L759.9,421.81 L763.34,424.73 L766.79,427.71 L770.24,430.74 L773.69,433.83 L777.14,436.98 L780.59,440.19 L784.04,443.45 L787.49,446.78 L790.94,450.18 L794.39,453.64 L797.84,457.16 L801.29,460.75 L804.74,464.41 L808.19,468.14 L811.64,471.95 L815.08,475.83 L818.53,479.78 L821.98,483.81 L825.43,487.92 L828.88,492.11 L832.33,496.39 L835.78,500.75 L839.23,505.2 L842.68,509.74 L846.13,514.37 L849.58,519.09 L853.03,523.92 L856.48,528.84 L857.16,529.82 L857.84,530.81 L858.52,531.8 L859.2,532.8 L859.88,533.8 L860.56,534.8 L861.24,535.81 L861.92,536.82 L862.6,537.84 L863.28,538.86 L863.96,539.88 L864.64,540.91 L865.32,541.94 L866,542.98 L866.69,544.02 L867.37,545.07 L868.05,546.12 L868.73,547.18 L869.41,548.24 L870.09,549.3 L870.77,550.37 L871.45,551.44 L872.13,552.52 L872.81,553.6 L873.49,554.69 L874.17,555.78 L874.85,556.88 L875.53,557.98 L876.21,559.08 L876.89,560.2 L877.57,561.31 L878.26,562.43 L878.94,563.56 L879.62,564.69 L880.3,565.82 L880.98,566.96 L881.66,568.11 L882.34,569.26 L883.02,570.41 L883.7,571.57 L884.38,572.74 L885.06,573.91 L885.74,575.08 L886.42,576.26 L887.1,577.45 L887.78,578.64 L888.46,579.84 L889.14,581.04 L889.83,582.24 L890.51,583.46 L891.19,584.68 L891.87,585.9 L892.55,587.13 L893.23,588.37 L893.91,589.61 L894.59,590.85 L895.27,592.1 L895.95,593.36 L896.63,594.63 L897.31,595.9 L897.99,597.17 L898.67,598.45 L899.35,599.74 L900.03,601.04 L900.71,602.34 L901.4,603.64 L902.08,604.95 L902.76,606.27 L903.44,607.6 L904.12,608.93 L904.8,610.27 L905.48,611.61 L906.16,612.96 L906.84,614.32 L907.52,615.68 L908.2,617.05 L908.88,618.43 L909.56,619.82 L910.24,621.21 L910.92,622.61 L911.6,624.01 L912.28,625.42 L912.97,626.84 L913.65,628.27 L914.33,629.7 L915.01,631.14 L915.69,632.59 L916.37,634.05 L917.05,635.51 L917.73,636.98 L918.41,638.46 L919.09,639.95 L919.77,641.44 L920.45,642.94 L921.13,644.45 L921.81,645.97 L922.49,647.5 L923.17,649.03 L923.85,650.58 L924.54,652.13 L925.22,653.69 L925.9,655.25 L926.58,656.83 L927.26,658.42 L927.94,660.01 L928.62,661.62 L929.3,663.23 L929.98,664.85 L930.66,666.48 L931.34,668.12 L932.02,669.77 L932.7,671.43 L933.38,673.1 L934.06,674.78 L934.74,676.47 L935.42,678.16 L936.11,679.87 L936.79,681.59 L937.47,683.32 L938.15,685.06 L938.83,686.81 L939.51,688.57 L940.19,690.34 L940.87,692.13 L941.55,693.92 L942.23,695.73 L942.91,697.54 L943.59,699.37 L944.27,701.21 L944.95,703.06 L945.63,704.93 L946.31,706.81 L946.99,708.69 L947.68,710.6 L948.36,712.51 L949.04,714.44 L949.72,716.38 L950.4,718.33 L951.08,720.3 L951.76,722.28 L952.44,724.27 L953.12,726.28 L953.8,728.3 L954.48,730.34 L955.16,732.39 L955.84,734.46 L956.52,736.54 L957.2,738.64 L957.88,740.76 L958.56,742.88 L959.25,745.03 L959.93,747.19 L960.61,749.37 L961.29,751.57 L961.97,753.78 L962.65,756.01 L963.33,758.26 L964.01,760.53 L964.69,762.81 L965.37,765.12 L966.05,767.44 L966.73,769.79 L967.41,772.15 L968.09,774.53 L968.77,776.94 L969.45,779.36 L970.13,781.81 L970.82,784.28 L971.5,786.77 L972.18,789.28 L972.86,791.82 L973.54,794.38 L974.22,796.97 L974.9,799.58 L975.58,802.21 L976.26,804.87 L976.94,807.56 L977.62,810.28 L978.3,813.02 L978.98,815.79 L979.66,818.59 L980.34,821.41 L981.02,824.27 L981.7,827.16 L982.39,830.08 L983.07,833.04 L983.75,836.02 L984.43,839.04 L985.11,842.1 L985.79,845.19 L986.47,848.32 L987.15,851.48 L987.83,854.69 L988.51,857.93 L989.19,861.21 L989.87,864.54 L990.55,867.91 L991.23,871.32 L991.91,874.78 L992.59,878.29 L993.27,881.84 L993.96,885.44 L994.64,889.1 L995.32,892.81 L996,896.57 L996.68,900.39 L997.36,904.27 L998.04,908.2 L998.72,912.2 L999.4,916.26 L1000.08,920.4 L1000.76,924.59 L1001.44,928.86 L1002.12,933.21 L1002.8,937.63 L1003.48,942.13 L1004.16,946.72 L1004.84,951.39 L1005.53,956.15" stroke="#008000"/>
<path d="M169.66,214.19 L173.11,214.41 L176.56,214.64 L180.01,214.87 L183.46,215.1 L186.91,215.34 L190.36,215.58 L193.81,215.83 L197.26,216.08 L200.71,216.34 L204.16,216.6 L207.61,216.87 L211.06,217.14 L214.5,217.42 L217.95,217.71 L221.4,218 L224.85,218.29 L228.3,218.59 L231.75,218.9 L235.2,219.21 L238.65,219.53 L242.1,219.86 L245.55,220.19 L249,220.53 L252.45,220.87 L255.9,221.22 L259.35,221.58 L262.8,221.95 L266.24,222.32 L269.69,222.7 L273.14,223.08 L276.59,223.48 L280.04,223.88 L283.49,224.29 L286.94,224.71 L290.39,225.13 L293.84,225.56 L297.29,226 L300.74,226.45 L304.19,226.91 L307.64,227.38 L311.09,227.86 L314.53,228.34 L317.98,228.83 L321.43,229.34 L324.88,229.85 L328.33,230.37 L331.78,230.91 L335.23,231.45 L338.68,232 L342.13,232.56 L345.58,233.14 L349.03,233.72 L352.48,234.32 L355.93,234.92 L359.38,235.54 L362.83,236.17 L366.27,236.81 L369.72,237.47 L373.17,238.13 L376.62,238.81 L380.07,239.5 L383.52,240.2 L386.97,240.92 L390.42,241.65 L393.87,242.39 L397.32,243.15 L400.77,243.92 L404.22,244.71 L407.67,245.51 L411.12,246.32 L414.56,247.15 L418.01,248 L421.46,248.86 L424.91,249.74 L428.36,250.63 L431.81,251.54 L435.26,252.46 L438.71,253.41 L442.16,254.37 L445.61,255.34 L449.06,256.34 L452.51,257.36 L455.96,258.39 L459.41,259.44 L462.86,260.51 L466.3,261.6 L469.75,262.71 L473.2,263.84 L476.65,264.99 L480.1,266.17 L483.55,267.36 L487,268.58 L490.45,269.82 L493.9,271.08 L497.35,272.36 L500.8,273.67 L504.25,275 L507.7,276.35 L511.15,277.73 L514.59,279.14 L518.04,280.57 L521.49,282.03 L524.94,283.51 L528.39,285.02 L531.84,286.56 L535.29,288.12 L538.74,289.72 L542.19,291.34 L545.64,292.99 L549.09,294.68 L552.54,296.39 L555.99,298.14 L559.44,299.91 L562.88,301.72 L566.33,303.57 L569.78,305.44 L573.23,307.35 L576.68,309.3 L580.13,311.28 L583.58,313.3 L587.03,315.35 L590.48,317.44 L593.93,319.57 L597.38,321.74 L600.83,323.95 L604.28,326.2 L607.73,328.49 L611.18,330.82 L614.62,333.2 L618.07,335.62 L621.52,338.08 L624.97,340.59 L628.42,343.15 L631.87,345.75 L635.32,348.4 L638.77,351.11 L642.22,353.86 L645.67,356.66 L649.12,359.51 L652.57,362.42 L656.02,365.38 L659.47,368.4 L662.91,371.48 L666.36,374.61 L669.81,377.8 L673.26,381.05 L676.71,384.37 L680.16,387.74 L683.61,391.19 L687.06,394.69 L690.51,398.27 L693.96,401.91 L697.41,405.62 L700.86,409.41 L704.31,413.27 L707.76,417.2 L711.21,421.21 L714.65,425.3 L718.1,429.47 L721.55,433.73 L725,438.07 L728.45,442.49 L731.9,447.01 L735.35,451.61 L738.8,456.32 L742.25,461.11 L745.7,466.01 L749.15,471.01 L752.6,476.11 L756.05,481.33 L759.5,486.65 L762.94,492.09 L766.39,497.65 L769.84,503.33 L773.29,509.14 L776.74,515.08 L780.19,521.15 L783.64,527.37 L787.09,533.73 L790.54,540.24 L793.99,546.91 L797.44,553.75 L800.89,560.75 L804.34,567.94 L807.79,575.32 L811.24,582.89 L814.68,590.67 L818.13,598.66 L821.58,606.89 L825.03,615.36 L828.48,624.09 L831.93,633.09 L835.38,642.39 L838.83,651.99 L842.28,661.93 L845.73,672.23 L849.18,682.92 L852.63,694.03 L856.08,705.61 L856.76,707.95 L857.44,710.31 L858.12,712.69 L858.8,715.09 L859.48,717.51 L860.16,719.96 L860.84,722.42 L861.52,724.91 L862.2,727.42 L862.88,729.96 L863.56,732.52 L864.24,735.1 L864.92,737.71 L865.6,740.34 L866.29,743 L866.97,745.68 L867.65,748.39 L868.33,751.13 L869.01,753.9 L869.69,756.69 L870.37,759.52 L871.05,762.37 L871.73,765.26 L872.41,768.17 L873.09,771.12 L873.77,774.11 L874.45,777.12 L875.13,780.17 L875.81,783.26 L876.49,786.38 L877.17,789.54 L877.86,792.74 L878.54,795.98 L879.22,799.26 L879.9,802.58 L880.58,805.94 L881.26,809.35 L881.94,812.81 L882.62,816.31 L883.3,819.85 L883.98,823.45 L884.66,827.1 L885.34,830.8 L886.02,834.56 L886.7,838.37 L887.38,842.24 L888.06,846.17 L888.74,850.16 L889.43,854.22 L890.11,858.34 L890.79,862.53 L891.47,866.79 L892.15,871.13 L892.83,875.54 L893.51,880.03 L894.19,884.6 L894.87,889.26 L895.55,894.01 L896.23,898.86 L896.91,903.8 L897.59,908.84 L898.27,913.99 L898.95,919.24 L899.63,924.62 L900.31,930.11 L901,935.74 L901.68,941.49 L902.36,947.39 L903.04,953.44 L903.72,959.64" stroke="#4b0082"/>
<path d="M170.96,182.6 L174.41,182.92 L177.86,183.25 L181.31,183.58 L184.76,183.92 L188.21,184.27 L191.66,184.62 L195.11,184.98 L198.56,185.35 L202.01,185.73 L205.46,186.11 L208.91,186.5 L212.36,186.89 L215.8,187.3 L219.25,187.71 L222.7,188.13 L226.15,188.56 L229.6,188.99 L233.05,189.44 L236.5,189.89 L239.95,190.35 L243.4,190.82 L246.85,191.3 L250.3,191.79 L253.75,192.28 L257.2,192.79 L260.65,193.31 L264.1,193.83 L267.54,194.37 L270.99,194.91 L274.44,195.47 L277.89,196.04 L281.34,196.61 L284.79,197.2 L288.24,197.8 L291.69,198.41 L295.14,199.03 L298.59,199.67 L302.04,200.31 L305.49,200.97 L308.94,201.64 L312.39,202.32 L315.83,203.02 L319.28,203.73 L322.73,204.45 L326.18,205.18 L329.63,205.93 L333.08,206.69 L336.53,207.47 L339.98,208.26 L343.43,209.06 L346.88,209.88 L350.33,210.72 L353.78,211.57 L357.23,212.43 L360.68,213.32 L364.13,214.21 L367.57,215.13 L371.02,216.06 L374.47,217.01 L377.92,217.98 L381.37,218.96 L384.82,219.96 L388.27,220.98 L391.72,222.02 L395.17,223.08 L398.62,224.16 L402.07,225.26 L405.52,226.37 L408.97,227.51 L412.42,228.67 L415.86,229.85 L419.31,231.05 L422.76,232.27 L426.21,233.52 L429.66,234.79 L433.11,236.08 L436.56,237.4 L440.01,238.73 L443.46,240.1 L446.91,241.49 L450.36,242.9 L453.81,244.34 L457.26,245.81 L460.71,247.3 L464.16,248.82 L467.6,250.36 L471.05,251.94 L474.5,253.54 L477.95,255.18 L481.4,256.84 L484.85,258.53 L488.3,260.26 L491.75,262.02 L495.2,263.8 L498.65,265.62 L502.1,267.48 L505.55,269.37 L509,271.29 L512.45,273.24 L515.89,275.24 L519.34,277.27 L522.79,279.33 L526.24,281.44 L529.69,283.58 L533.14,285.76 L536.59,287.99 L540.04,290.25 L543.49,292.55 L546.94,294.9 L550.39,297.29 L553.84,299.73 L557.29,302.21 L560.74,304.73 L564.18,307.3 L567.63,309.92 L571.08,312.59 L574.53,315.31 L577.98,318.08 L581.43,320.9 L584.88,323.77 L588.33,326.7 L591.78,329.68 L595.23,332.72 L598.68,335.81 L602.13,338.96 L605.58,342.17 L609.03,345.45 L612.48,348.78 L615.92,352.18 L619.37,355.64 L622.82,359.17 L626.27,362.77 L629.72,366.44 L633.17,370.18 L636.62,373.99 L640.07,377.87 L643.52,381.83 L646.97,385.87 L650.42,389.98 L653.87,394.18 L657.32,398.47 L660.77,402.83 L664.21,407.29 L667.66,411.84 L671.11,416.47 L674.56,421.21 L678.01,426.04 L681.46,430.97 L684.91,436 L688.36,441.14 L691.81,446.39 L695.26,451.76 L698.71,457.24 L702.16,462.84 L705.61,468.56 L709.06,474.41 L712.51,480.39 L715.95,486.52 L719.4,492.78 L722.85,499.19 L726.3,505.76 L729.75,512.48 L733.2,519.38 L736.65,526.44 L740.1,533.69 L743.55,541.13 L747,548.77 L750.45,556.63 L753.9,564.7 L757.35,573.01 L760.8,581.56 L764.24,590.38 L767.69,599.48 L771.14,608.88 L774.59,618.59 L778.04,628.65 L781.49,639.08 L784.94,649.91 L788.39,661.17 L791.84,672.91 L795.29,685.16 L798.74,697.99 L802.19,711.45 L805.64,725.61 L809.09,740.56 L812.54,756.41 L815.98,773.28 L819.43,791.33 L822.88,810.74 L826.33,831.77 L829.78,854.73 L833.23,880.04 L836.68,908.29 L840.13,940.28" stroke="#ff0000"/>
</g>
<rect x="179.96" y="44.83" width="1256.94" height="855.97" fill="none" stroke="#000" stroke-width="3.78" stroke-linejoin="miter"/>
<text x="89.56" y="918" font-size="45" text-anchor="start">10<tspan dy="-15.8" font-size="32.3">0</tspan></text>
<text x="92.01" y="746.81" font-size="45" text-anchor="start">10<tspan dy="-15.8" font-size="32.3">1</tspan></text>
<text x="90.59" y="575.61" font-size="45" text-anchor="start">10<tspan dy="-15.8" font-size="32.3">2</tspan></text>
<text x="89.82" y="404.42" font-size="45" text-anchor="start">10<tspan dy="-15.8" font-size="32.3">3</tspan></text>
<text x="89.04" y="233.22" font-size="45" text-anchor="start">10<tspan dy="-15.8" font-size="32.3">4</tspan></text>
<text x="89.92" y="62.03" font-size="45" text-anchor="start">10<tspan dy="-15.8" font-size="32.3">5</tspan></text>
<text x="137.2" y="948" font-size="45" text-anchor="start">10<tspan dy="-15.8" font-size="32.3">-2</tspan></text>
<text x="477.72" y="948" font-size="45" text-anchor="start">10<tspan dy="-15.8" font-size="32.3">-1</tspan></text>
<text x="821.76" y="948" font-size="45" text-anchor="start">10<tspan dy="-15.8" font-size="32.3">0</tspan></text>
<text x="1162.79" y="948" font-size="45" text-anchor="start">10<tspan dy="-15.8" font-size="32.3">1</tspan></text>
<text x="808.43" y="1013.2" font-size="52.5" text-anchor="middle">Threshold Energy [keV]</text>
<text transform="translate(61.2,474.06) rotate(-90)" font-size="52.5" text-anchor="middle">Rate [/100kg/day]</text>
<path d="M1203.7,104.9H1294.1" stroke="#000000" stroke-width="6.2" stroke-linecap="square" fill="none"/>
<text x="1330.5" y="120.2" font-size="44.6">He</text>
<path d="M1203.7,171.35H1294.1" stroke="#0000ff" stroke-width="6.2" stroke-linecap="square" fill="none"/>
<text x="1330.5" y="187.35" font-size="44.6">Ne</text>
<path d="M1203.7,238.5H1294.1" stroke="#008000" stroke-width="6.2" stroke-linecap="square" fill="none"/>
<text x="1330.5" y="254.5" font-size="44.6">Ar</text>
<path d="M1203.7,305.65H1294.1" stroke="#4b0082" stroke-width="6.2" stroke-linecap="square" fill="none"/>
<text x="1330.5" y="321.65" font-size="44.6">Kr</text>
<path d="M1203.7,372.8H1294.1" stroke="#ff0000" stroke-width="6.2" stroke-linecap="square" fill="none"/>
<text x="1330.5" y="388.8" font-size="44.6">Xe</text>
<path d="M488.3,2058.9v-11M660.75,2058.9v-11M783.1,2058.9v-11M878,2058.9v-11M955.54,2058.9v-11M1021.11,2058.9v-11M1077.9,2058.9v-11M1127.99,2058.9v-11M1172.8,2058.9v-22.4M193.5,2026.26h11.9M1467.6,2026.26h-11M193.5,2007.17h11.9M1467.6,2007.17h-11M193.5,1993.62h11.9M1467.6,1993.62h-11M193.5,1983.11h11.9M1467.6,1983.11h-11M193.5,1974.52h11.9M1467.6,1974.52h-11M193.5,1967.26h11.9M1467.6,1967.26h-11M193.5,1960.98h11.9M1467.6,1960.98h-11M193.5,1955.43h11.9M1467.6,1955.43h-11M193.5,1950.47h22.8M1467.6,1950.47h-22.4M193.5,1917.83h11.9M1467.6,1917.83h-11M193.5,1898.73h11.9M1467.6,1898.73h-11M193.5,1885.19h11.9M1467.6,1885.19h-11M193.5,1874.68h11.9M1467.6,1874.68h-11M193.5,1866.09h11.9M1467.6,1866.09h-11M193.5,1858.83h11.9M1467.6,1858.83h-11M193.5,1852.55h11.9M1467.6,1852.55h-11M193.5,1847h11.9M1467.6,1847h-11M193.5,1842.04h22.8M1467.6,1842.04h-22.4M193.5,1809.4h11.9M1467.6,1809.4h-11M193.5,1790.3h11.9M1467.6,1790.3h-11M193.5,1776.76h11.9M1467.6,1776.76h-11M193.5,1766.25h11.9M1467.6,1766.25h-11M193.5,1757.66h11.9M1467.6,1757.66h-11M193.5,1750.4h11.9M1467.6,1750.4h-11M193.5,1744.11h11.9M1467.6,1744.11h-11M193.5,1738.57h11.9M1467.6,1738.57h-11M193.5,1733.61h22.8M1467.6,1733.61h-22.4M193.5,1700.97h11.9M1467.6,1700.97h-11M193.5,1681.87h11.9M1467.6,1681.87h-11M193.5,1668.32h11.9M1467.6,1668.32h-11M193.5,1657.82h11.9M1467.6,1657.82h-11M193.5,1649.23h11.9M1467.6,1649.23h-11M193.5,1641.97h11.9M1467.6,1641.97h-11M193.5,1635.68h11.9M1467.6,1635.68h-11M193.5,1630.14h11.9M1467.6,1630.14h-11M193.5,1625.18h22.8M1467.6,1625.18h-22.4M193.5,1592.53h11.9M1467.6,1592.53h-11M193.5,1573.44h11.9M1467.6,1573.44h-11M193.5,1559.89h11.9M1467.6,1559.89h-11M193.5,1549.38h11.9M1467.6,1549.38h-11M193.5,1540.8h11.9M1467.6,1540.8h-11M193.5,1533.54h11.9M1467.6,1533.54h-11M193.5,1527.25h11.9M1467.6,1527.25h-11M193.5,1521.71h11.9M1467.6,1521.71h-11M193.5,1516.74h22.8M1467.6,1516.74h-22.4M193.5,1484.1h11.9M1467.6,1484.1h-11M193.5,1465.01h11.9M1467.6,1465.01h-11M193.5,1451.46h11.9M1467.6,1451.46h-11M193.5,1440.95h11.9M1467.6,1440.95h-11M193.5,1432.37h11.9M1467.6,1432.37h-11M193.5,1425.11h11.9M1467.6,1425.11h-11M193.5,1418.82h11.9M1467.6,1418.82h-11M193.5,1413.27h11.9M1467.6,1413.27h-11M193.5,1408.31h22.8M1467.6,1408.31h-22.4M193.5,1375.67h11.9M1467.6,1375.67h-11M193.5,1356.58h11.9M1467.6,1356.58h-11M193.5,1343.03h11.9M1467.6,1343.03h-11M193.5,1332.52h11.9M1467.6,1332.52h-11M193.5,1323.94h11.9M1467.6,1323.94h-11M193.5,1316.68h11.9M1467.6,1316.68h-11M193.5,1310.39h11.9M1467.6,1310.39h-11M193.5,1304.84h11.9M1467.6,1304.84h-11M193.5,1299.88h22.8M1467.6,1299.88h-22.4M193.5,1267.24h11.9M1467.6,1267.24h-11M193.5,1248.15h11.9M1467.6,1248.15h-11M193.5,1234.6h11.9M1467.6,1234.6h-11M193.5,1224.09h11.9M1467.6,1224.09h-11M193.5,1215.51h11.9M1467.6,1215.51h-11M193.5,1208.25h11.9M1467.6,1208.25h-11M193.5,1201.96h11.9M1467.6,1201.96h-11M193.5,1196.41h11.9M1467.6,1196.41h-11M225.8,1191.45v22.8M558.9,1191.45v22.8M758.2,1191.45v22.8M961.3,1191.45v22.8M1291.3,1191.45v22.8M482.75,1191.45v11.9M652.54,1191.45v11.9M773.01,1191.45v11.9M866.45,1191.45v11.9M942.79,1191.45v11.9M1007.34,1191.45v11.9M1063.26,1191.45v11.9M1112.58,1191.45v11.9M1446.95,1191.45v11.9" stroke="#000" stroke-width="3.78" fill="none"/>
<g clip-path="url(#c2)">
<path d="M903.4,1478.8V1481.8" stroke="#ffa500" stroke-width="6.3" fill="none"/><path d="M896.1,1478.8H910.7" stroke="#ffa500" stroke-width="3.8" fill="none"/><path d="M896.1,1481.8H910.7" stroke="#ffa500" stroke-width="3.8" fill="none"/>
<path d="M1069.5,1506.1V1509.1" stroke="#ffa500" stroke-width="6.3" fill="none"/><path d="M1062.2,1506.1H1076.8" stroke="#ffa500" stroke-width="3.8" fill="none"/><path d="M1062.2,1509.1H1076.8" stroke="#ffa500" stroke-width="3.8" fill="none"/>
<path d="M1189.3,1520.7V1523.7" stroke="#ffa500" stroke-width="6.3" fill="none"/><path d="M1182,1520.7H1196.6" stroke="#ffa500" stroke-width="3.8" fill="none"/><path d="M1182,1523.7H1196.6" stroke="#ffa500" stroke-width="3.8" fill="none"/>
<path d="M1282.4,1534.3V1537.3" stroke="#ffa500" stroke-width="6.3" fill="none"/><path d="M1275.1,1534.3H1289.7" stroke="#ffa500" stroke-width="3.8" fill="none"/><path d="M1275.1,1537.3H1289.7" stroke="#ffa500" stroke-width="3.8" fill="none"/>
<path d="M1359.2,1543.5V1546.5" stroke="#ffa500" stroke-width="6.3" fill="none"/><path d="M1351.9,1543.5H1366.5" stroke="#ffa500" stroke-width="3.8" fill="none"/><path d="M1351.9,1546.5H1366.5" stroke="#ffa500" stroke-width="3.8" fill="none"/>
<path d="M1422.4,1555.4V1558.4" stroke="#ffa500" stroke-width="6.3" fill="none"/><path d="M1415.1,1555.4H1429.7" stroke="#ffa500" stroke-width="3.8" fill="none"/><path d="M1415.1,1558.4H1429.7" stroke="#ffa500" stroke-width="3.8" fill="none"/>
<path d="M688.3,1495.2V1508" stroke="#000080" stroke-width="6.3" fill="none"/><path d="M681,1495.2H695.6" stroke="#000080" stroke-width="3.8" fill="none"/><path d="M681,1508H695.6" stroke="#000080" stroke-width="3.8" fill="none"/>
<path d="M795,1652.2V1666.9" stroke="#000080" stroke-width="6.3" fill="none"/><path d="M787.7,1652.2H802.3" stroke="#000080" stroke-width="3.8" fill="none"/><path d="M787.7,1666.9H802.3" stroke="#000080" stroke-width="3.8" fill="none"/>
<path d="M899.7,1747.1V1793.7" stroke="#000080" stroke-width="6.3" fill="none"/><path d="M892.4,1747.1H907" stroke="#000080" stroke-width="3.8" fill="none"/><path d="M892.4,1793.7H907" stroke="#000080" stroke-width="3.8" fill="none"/>
<path d="M1006.7,1796.5V1859.2" stroke="#000080" stroke-width="6.3" fill="none"/><path d="M999.4,1796.5H1014" stroke="#000080" stroke-width="3.8" fill="none"/><path d="M999.4,1859.2H1014" stroke="#000080" stroke-width="3.8" fill="none"/>
<path d="M1112.3,1839.7V2200" stroke="#000080" stroke-width="6.3" fill="none"/><path d="M1105,1839.7H1119.6" stroke="#000080" stroke-width="3.8" fill="none"/><path d="M1105,2200H1119.6" stroke="#000080" stroke-width="3.8" fill="none"/>
<path d="M1325.5,1891.2V2200" stroke="#000080" stroke-width="6.3" fill="none"/><path d="M1318.2,1891.2H1332.8" stroke="#000080" stroke-width="3.8" fill="none"/><path d="M1318.2,2200H1332.8" stroke="#000080" stroke-width="3.8" fill="none"/>
<path d="M1432.3,1879.5V2200" stroke="#000080" stroke-width="6.3" fill="none"/><path d="M1425,1879.5H1439.6" stroke="#000080" stroke-width="3.8" fill="none"/><path d="M1425,2200H1439.6" stroke="#000080" stroke-width="3.8" fill="none"/>
<circle cx="215.2" cy="1263.1" r="5" fill="#ff00ff"/>
<circle cx="254.4" cy="1271.3" r="5" fill="#ff00ff"/>
<circle cx="289.6" cy="1278.7" r="5" fill="#ff00ff"/>
<circle cx="320.8" cy="1294.9" r="5" fill="#ff00ff"/>
<circle cx="351" cy="1317.6" r="5" fill="#ff00ff"/>
<circle cx="380.4" cy="1343.3" r="5" fill="#ff00ff"/>
<circle cx="406.8" cy="1351.8" r="5" fill="#ff00ff"/>
<circle cx="431.2" cy="1336.2" r="5" fill="#ff00ff"/>
<circle cx="455" cy="1362.4" r="5" fill="#ff00ff"/>
<circle cx="477" cy="1362.4" r="5" fill="#ff00ff"/>
<circle cx="499" cy="1362.4" r="5" fill="#ff00ff"/>
<circle cx="519.1" cy="1336.2" r="5" fill="#ff00ff"/>
<circle cx="538.4" cy="1376.1" r="5" fill="#ff00ff"/>
<circle cx="557.5" cy="1376.1" r="5" fill="#ff00ff"/>
<circle cx="575.1" cy="1427.5" r="5" fill="#ff00ff"/>
<circle cx="592.3" cy="1428" r="5" fill="#ff00ff"/>
<circle cx="607.7" cy="1428" r="5" fill="#ff00ff"/>
<circle cx="624.3" cy="1395.5" r="5" fill="#ff00ff"/>
<circle cx="638.6" cy="1427.5" r="5" fill="#ff00ff"/>
<circle cx="667.7" cy="1428" r="5" fill="#ff00ff"/>
<circle cx="681.5" cy="1394.7" r="5" fill="#ff00ff"/>
<circle cx="732.1" cy="1428" r="5" fill="#ff00ff"/>
<circle cx="766.5" cy="1427.2" r="5" fill="#ff00ff"/>
<path d="M193.5,1385.4H365.95V1396.2H583.2V1421.1H726.31V1455H833.19V1492H918.54V1532H989.59V1573.7H1050.45V1616.8H1103.68V1661.8H1150.99V1706.3H1193.55V1753.3H1232.24V1801.5H1267.71V1850.6H1300.44V1901.5H1330.83V1954.3H1359.19V2009.2H1385.78V2108.9" stroke="#000" stroke-width="6.2" fill="none" stroke-linejoin="round" stroke-linecap="square"/>
<path d="M193.5,1278.7H365.95V1355.2H583.2V1412.1H726.31V1428H833.19V1471.2H918.54V1490.57H989.59V1499H1050.45V1506.3H1103.68V1512.74H1150.99V1518.5H1193.55V1523.71H1232.24V1528.47H1267.71V1532.85H1300.44V1536.9H1330.83V1540.67H1359.19V1544.2H1385.78V1547.52H1410.81V1550.64H1434.44V1553.6H1456.83V1556.4H1472.6" stroke="#008000" stroke-width="6.2" fill="none" stroke-linejoin="round" stroke-dasharray="24.5 10.8"/>
<circle cx="782.9" cy="1276.1" r="8.7" fill="#ff0000"/>
<circle cx="877.8" cy="1524.7" r="8.7" fill="#ff0000"/>
<circle cx="955.7" cy="1783.1" r="8.7" fill="#ff0000"/>
<circle cx="903.4" cy="1480.3" r="9.58" fill="#ffa500"/>
<circle cx="1069.5" cy="1507.6" r="9.58" fill="#ffa500"/>
<circle cx="1189.3" cy="1522.2" r="9.58" fill="#ffa500"/>
<circle cx="1282.4" cy="1535.8" r="9.58" fill="#ffa500"/>
<circle cx="1359.2" cy="1545" r="9.58" fill="#ffa500"/>
<circle cx="1422.4" cy="1556.9" r="9.58" fill="#ffa500"/>
<circle cx="688.3" cy="1501.4" r="9.53" fill="#000080"/>
<circle cx="795" cy="1660.1" r="9.53" fill="#000080"/>
<circle cx="899.7" cy="1759.3" r="9.53" fill="#000080"/>
<circle cx="1006.7" cy="1810.7" r="9.53" fill="#000080"/>
<circle cx="1112.3" cy="1860.5" r="9.53" fill="#000080"/>
<circle cx="1325.5" cy="1920" r="9.53" fill="#000080"/>
<circle cx="1432.3" cy="1903.4" r="9.53" fill="#000080"/>
</g>
<rect x="193.5" y="1191.45" width="1274.1" height="867.45" fill="none" stroke="#000" stroke-width="3.78"/>
<text x="90.63" y="2077.3" font-size="45" text-anchor="start">10<tspan dy="-15.8" font-size="32.3">-4</tspan></text>
<text x="91.4" y="1967.67" font-size="45" text-anchor="start">10<tspan dy="-15.8" font-size="32.3">-3</tspan></text>
<text x="92.18" y="1859.24" font-size="45" text-anchor="start">10<tspan dy="-15.8" font-size="32.3">-2</tspan></text>
<text x="93.6" y="1750.81" font-size="45" text-anchor="start">10<tspan dy="-15.8" font-size="32.3">-1</tspan></text>
<text x="102.06" y="1642.38" font-size="45" text-anchor="start">10<tspan dy="-15.8" font-size="32.3">0</tspan></text>
<text x="104.51" y="1533.94" font-size="45" text-anchor="start">10<tspan dy="-15.8" font-size="32.3">1</tspan></text>
<text x="103.09" y="1425.51" font-size="45" text-anchor="start">10<tspan dy="-15.8" font-size="32.3">2</tspan></text>
<text x="102.32" y="1317.08" font-size="45" text-anchor="start">10<tspan dy="-15.8" font-size="32.3">3</tspan></text>
<text x="101.54" y="1208.65" font-size="45" text-anchor="start">10<tspan dy="-15.8" font-size="32.3">4</tspan></text>
<text x="155.68" y="2107.5" font-size="45" text-anchor="start">10<tspan dy="-15.8" font-size="32.3">0</tspan></text>
<text x="1136.21" y="2107.5" font-size="45" text-anchor="start">10<tspan dy="-15.8" font-size="32.3">1</tspan></text>
<text x="225.8" y="1169.5" font-size="37.5" text-anchor="middle">0.3</text>
<text x="558.9" y="1169.5" font-size="37.5" text-anchor="middle">0.5</text>
<text x="758.2" y="1169.5" font-size="37.5" text-anchor="middle">0.7</text>
<text x="961.3" y="1169.5" font-size="37.5" text-anchor="middle">1.0</text>
<text x="1291.3" y="1169.5" font-size="37.5" text-anchor="middle">2.0</text>
<text x="1467.6" y="1169.5" font-size="37.5" text-anchor="middle">3.0</text>
<text x="829.8" y="2172" font-size="53.15" text-anchor="middle">Number of electrons</text>
<text transform="translate(62.7,1626.98) rotate(-90)" font-size="53.15" text-anchor="middle">Rate [/100kg/day/e-]</text>
<text x="623.6" y="1126.8" font-size="52.5" text-anchor="start" letter-spacing="0.65">Energy [keV<tspan dy="9" font-size="36.75">NR</tspan><tspan dy="-9">]</tspan></text>
<path d="M1059.8,1230.8H1120.8" stroke="#000" stroke-width="6.2" stroke-linecap="square" fill="none"/>
<path d="M1059.8,1275.8H1120.8" stroke="#008000" stroke-width="6.2" stroke-dasharray="24.5 10.8" fill="none"/>
<circle cx="1090.3" cy="1322.5" r="5" fill="#ff00ff"/>
<circle cx="1090.3" cy="1366.9" r="8.7" fill="#ff0000"/>
<path d="M1090.3,1394.2V1423.6" stroke="#ffa500" stroke-width="6.3" fill="none"/><path d="M1083,1394.2H1097.6" stroke="#ffa500" stroke-width="3.8" fill="none"/><path d="M1083,1423.6H1097.6" stroke="#ffa500" stroke-width="3.8" fill="none"/><circle cx="1090.3" cy="1408.9" r="9.58" fill="#ffa500"/>
<path d="M1090.3,1438.6V1468" stroke="#000080" stroke-width="6.3" fill="none"/><path d="M1083,1438.6H1097.6" stroke="#000080" stroke-width="3.8" fill="none"/><path d="M1083,1468H1097.6" stroke="#000080" stroke-width="3.8" fill="none"/><circle cx="1090.3" cy="1453.3" r="9.53" fill="#000080"/>
<text x="1144.5" y="1243" font-size="30.35" letter-spacing="0.06">Reactor <tspan font-style="italic">ν</tspan> 220V/cm</text>
<text x="1144.5" y="1286.8" font-size="30.35">Fitted Background</text>
<text x="1144.5" y="1330.6" font-size="30.35">XENON10</text>
<text x="1144.5" y="1374.6" font-size="30.35">RED100</text>
<text x="1144.5" y="1419.3" font-size="30.35">XENON100</text>
<text x="1144.5" y="1463.4" font-size="30.35">XENON1T</text>
</svg>
</body></html>
